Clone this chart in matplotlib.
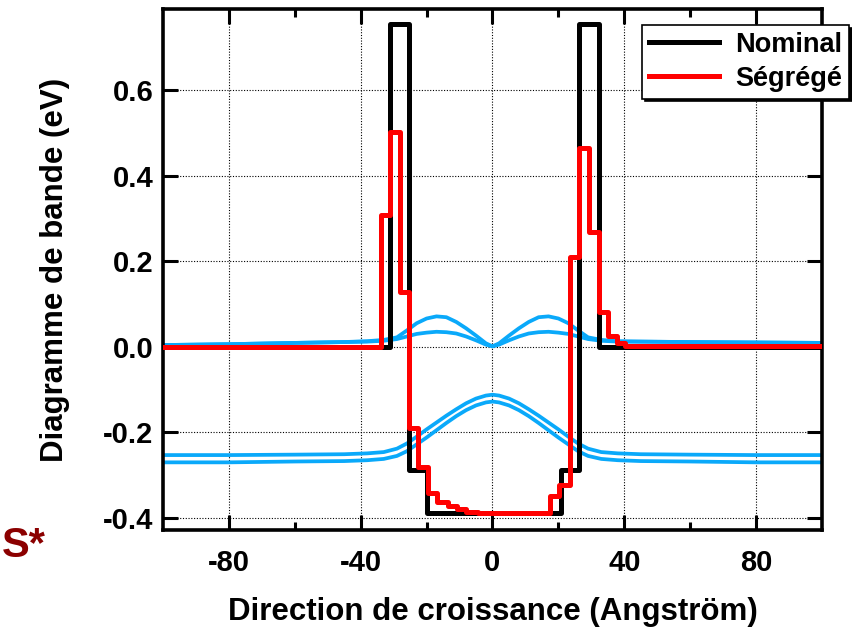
import matplotlib
matplotlib.use('Agg')
import matplotlib.pyplot as plt

plt.rcParams['font.family'] = ['Liberation Sans', 'DejaVu Sans']
plt.rcParams['font.weight'] = 'bold'

# nominal band profile (step edges, value holds until next edge)
x_nominal = [-100, -31.0, -25.2, -20.0, 20.7, 26.4, 32.2, 100]
y_nominal = [0.0, 0.755, -0.287, -0.389, -0.287, 0.755, 0.0, 0.0]

# segregated band profile
x_segrege = [-100, -33.7, -31.0, -28.0, -25.2, -22.5, -19.5, -16.7, -13.4, -10.9,
             -7.9, -4.5, 17.6, 20.1, 23.4, 26.1, 29.2, 32.2, 35.2, 37.7, 40.2, 100]
y_segrege = [0.0, 0.308, 0.502, 0.128, -0.189, -0.28, -0.341, -0.362, -0.373, -0.380,
             -0.385, -0.388, -0.348, -0.322, 0.21, 0.464, 0.269, 0.082, 0.026, 0.009, 0.001, 0.001]

# blue curves
x_blue = [-100, -80, -60, -45, -38, -33, -29, -26, -23, -20, -17, -14, -11, -8, -5, -2, 0,
          2, 5, 8, 11, 14, 17, 20, 23, 26, 29, 33, 38, 45, 60, 80, 100]
e_high = [0.004, 0.006, 0.009, 0.011, 0.013, 0.016, 0.022, 0.038, 0.055, 0.066, 0.071, 0.069,
          0.058, 0.043, 0.026, 0.008, 0.001,
          0.008, 0.026, 0.043, 0.058, 0.069, 0.071, 0.066, 0.055, 0.038, 0.022, 0.016, 0.013,
          0.012, 0.011, 0.010, 0.009]
e_low = [0.004, 0.006, 0.009, 0.011, 0.012, 0.014, 0.018, 0.024, 0.030, 0.033, 0.035, 0.034,
         0.031, 0.024, 0.015, 0.005, 0.001,
         0.005, 0.015, 0.024, 0.031, 0.034, 0.035, 0.033, 0.030, 0.024, 0.018, 0.014, 0.012,
         0.012, 0.011, 0.010, 0.009]
h_high = [-0.253, -0.253, -0.252, -0.251, -0.249, -0.246, -0.238, -0.226, -0.210, -0.193, -0.177,
          -0.161, -0.146, -0.132, -0.121, -0.114, -0.112,
          -0.114, -0.121, -0.132, -0.146, -0.161, -0.177, -0.193, -0.210, -0.226, -0.238, -0.246,
          -0.249, -0.251, -0.252, -0.253, -0.253]
h_low = [-0.270, -0.270, -0.268, -0.267, -0.265, -0.262, -0.255, -0.244, -0.228, -0.212, -0.195,
         -0.178, -0.162, -0.148, -0.137, -0.130, -0.128,
         -0.130, -0.137, -0.148, -0.162, -0.178, -0.195, -0.212, -0.228, -0.244, -0.255, -0.262,
         -0.265, -0.267, -0.268, -0.270, -0.270]

blue = '#0aa9fa'

fig = plt.figure(figsize=(8.52, 6.32), dpi=100)
ax = fig.add_axes([0.1913, 0.1614, 0.7735, 0.8244])

for yb in (e_high, e_low, h_high, h_low):
    ax.plot(x_blue, yb, color=blue, lw=2.7, zorder=2)

ax.step(x_nominal, y_nominal, where='post', color='black', lw=3.6, label='Nominal', zorder=3)
ax.step(x_segrege, y_segrege, where='post', color='#ff0000', lw=3.6, label='Ségrégé', zorder=4)

ax.set_xlim(-100, 100)
ax.set_ylim(-0.428, 0.789)
ax.set_xticks([-80, -40, 0, 40, 80])
ax.set_xticklabels(['-80', '-40', '0', '40', '80'])
ax.set_xticks([-60, -20, 20, 60], minor=True)
ax.set_yticks([-0.4, -0.2, 0.0, 0.2, 0.4, 0.6])
ax.set_yticklabels(['-0.4', '-0.2', '0.0', '0.2', '0.4', '0.6'])

ax.grid(True, which='major', color='black', linestyle=(0, (1, 1.5)), lw=0.8)
ax.tick_params(which='both', direction='in', top=True, right=True, width=2.2, labelsize=21)
ax.tick_params(which='major', length=11)
ax.tick_params(which='minor', length=5.5)
ax.tick_params(axis='x', pad=14)
ax.tick_params(axis='y', pad=7)
for s in ax.spines.values():
    s.set_linewidth(2.6)

ax.set_xlabel('Direction de croissance (Angström)', fontsize=22.5, fontweight='bold', labelpad=14)
ax.set_ylabel('Diagramme de bande (eV)', fontsize=22.5, fontweight='bold', labelpad=24)

leg = ax.legend(loc='upper right', bbox_to_anchor=(0.9965, 0.9604), bbox_transform=fig.transFigure,
                borderaxespad=0, fancybox=False, edgecolor='black', framealpha=1,
                shadow={'color': 'black', 'alpha': 1}, prop={'size': 19.5, 'weight': 'bold'},
                handlelength=2.6, handletextpad=0.6, labelspacing=0.3, borderpad=0.25)
leg.get_frame().set_linewidth(1.2)
leg.set_zorder(10)

# label left over from the slide, at the left edge
fig.text(0.002, 0.105, 'S*', color='#8b0000', fontsize=30, fontweight='bold', ha='left', va='bottom')

fig.savefig('out.png', dpi=100)
